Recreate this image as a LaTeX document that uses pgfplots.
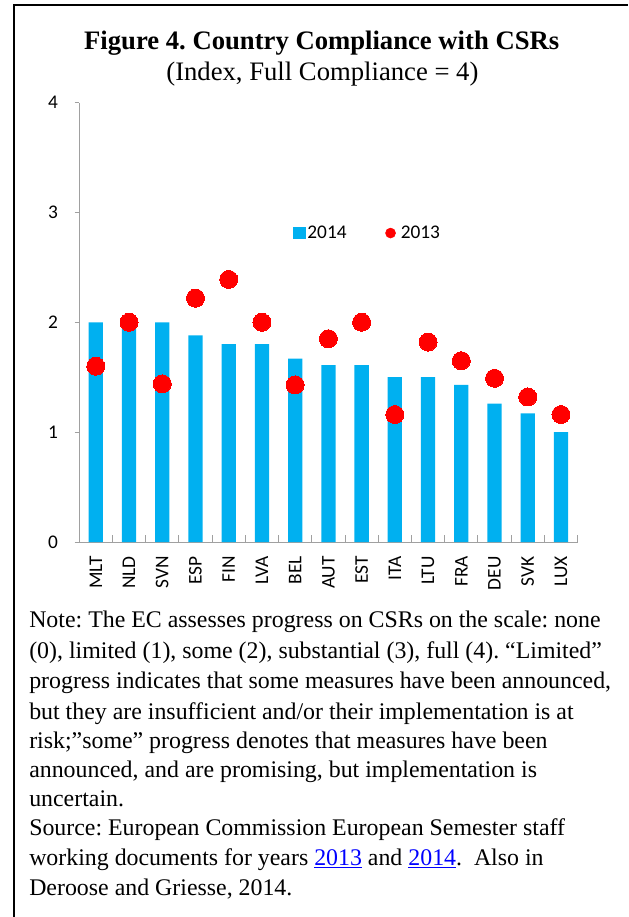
\documentclass[border=0pt]{standalone}
\usepackage{pgfplots}
\pgfplotsset{compat=1.18}
\usepackage{fontspec}
\setmainfont{Liberation Serif}
\newfontfamily\carlito{Carlito}
\definecolor{barblue}{RGB}{0,176,240}
\definecolor{axisgray}{RGB}{160,160,160}
\definecolor{linkblue}{RGB}{0,0,255}
\frenchspacing
\begin{document}
\begin{tikzpicture}
\path[use as bounding box] (0,0) rectangle (471pt,-687.75pt);
\draw[line width=1.8pt] (10.5pt,-687.75pt) -- (10.5pt,-3.75pt) -- (471pt,-3.75pt);
\node[anchor=base, inner sep=0pt, font=\fontsize{20pt}{24pt}\selectfont\bfseries] at (241.3pt,-37.5pt) {Figure 4. Country Compliance with CSRs};
\node[anchor=base, inner sep=0pt, font=\fontsize{20pt}{24pt}\selectfont] at (241.8pt,-60pt) {(Index, Full Compliance = 4)};

\begin{axis}[
 at={(59.4pt,-406.5pt)}, anchor=south west,
 scale only axis, width=373.8pt, height=329.6pt,
 xmin=-0.5, xmax=14.5, ymin=0, ymax=4,
 axis lines*=left,
 axis line style={draw=axisgray, line width=0.75pt},
 xtick={0,...,14},
 xticklabels={MLT,NLD,SVN,ESP,FIN,LVA,BEL,AUT,EST,ITA,LTU,FRA,DEU,SVK,LUX},
 minor xtick={0.5,1.5,...,14.5},
 tick style={draw=axisgray, line width=0.75pt},
 major x tick style={draw=none},
 xtick align=inside,
 ytick align=outside,
 minor tick length=5.25pt,
 major tick length=3.5pt,
 ytick={0,1,2,3,4},
 tick label style={font=\carlito\fontsize{14.5pt}{16pt}\selectfont, text=black},
 /pgf/number format/assume math mode=true,
 xticklabel style={rotate=90, anchor=east, inner sep=0pt},
 xticklabel shift=10.5pt,
 yticklabel style={anchor=east, inner sep=0pt},
 yticklabel shift=12.25pt,
 legend columns=2,
 legend style={at={(0.429,0.703)}, anchor=west, draw=none, fill=none,
   font=\carlito\fontsize{14.5pt}{16pt}\selectfont, inner sep=0pt,
   nodes={inner sep=0pt},
   /tikz/every even column/.append style={column sep=29pt}},
]
\addplot[ybar, bar width=10.7pt, bar shift=0pt, fill=barblue, draw=none,
  legend image code/.code={\fill[barblue] (0pt,-4.7pt) rectangle (9.4pt,4.7pt);}]
 coordinates {(0,2.0) (1,2.0) (2,2.0) (3,1.88) (4,1.8) (5,1.8) (6,1.67) (7,1.61) (8,1.61) (9,1.5) (10,1.5) (11,1.43) (12,1.26) (13,1.17) (14,1.0)};
\addlegendentry{\hspace{1.2pt}2014}
\addplot[color=red, only marks, mark=*, mark size=6.75pt, mark options={fill=red, draw=red, line width=0pt},
  legend image code/.code={\fill[red] (3.75pt,0pt) circle (3.75pt); \path (11.25pt,0pt);}]
 coordinates {(0,1.6) (1,2.0) (2,1.44) (3,2.22) (4,2.39) (5,2.0) (6,1.43) (7,1.85) (8,2.0) (9,1.16) (10,1.82) (11,1.65) (12,1.49) (13,1.32) (14,1.16)};
\addlegendentry{2013}
\end{axis}

\begin{scope}[every node/.style={anchor=base west, inner sep=0pt, font=\fontsize{17.9pt}{22pt}\selectfont}]
\node at (21.75pt,-470.25pt) {Note: The EC assesses progress on CSRs on the scale: none};
\node at (21.75pt,-493.6pt) {(0), limited (1), some (2), substantial (3), full (4). “Limited”};
\node at (21.75pt,-516.6pt) {progress indicates that some measures have been announced,};
\node at (21.75pt,-539.3pt) {but they are insufficient and/or their implementation is at};
\node at (21.75pt,-561.2pt) {risk;”some” progress denotes that measures have been};
\node at (21.75pt,-583.2pt) {announced, and are promising, but implementation is};
\node at (21.75pt,-604.9pt) {uncertain.};
\node at (21.75pt,-626.9pt) {Source: European Commission European Semester staff};
\node at (21.75pt,-649.2pt) {working documents for years \textcolor{linkblue}{\underline{2013}} and \textcolor{linkblue}{\underline{2014}}.\ \ Also in};
\node at (21.75pt,-671.4pt) {Deroose and Griesse, 2014.};
\end{scope}
\end{tikzpicture}
\end{document}
